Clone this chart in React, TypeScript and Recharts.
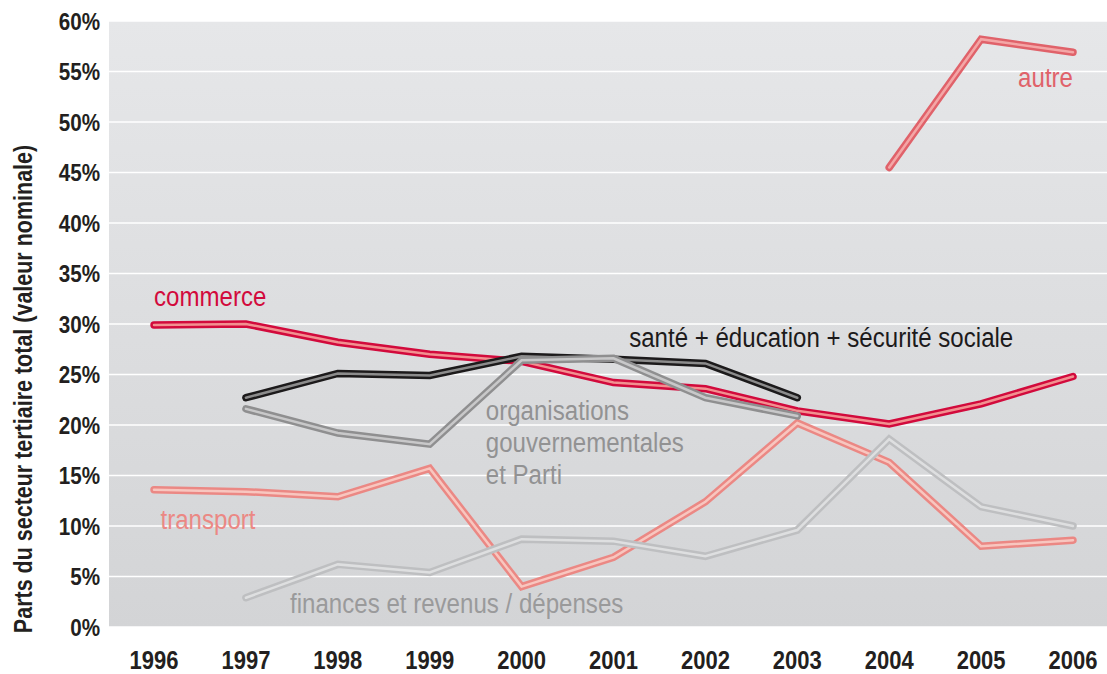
import React from 'react';
import { LineChart, Line, XAxis, YAxis, CartesianGrid, ReferenceDot, Label } from 'recharts';

const years = [1996, 1997, 1998, 1999, 2000, 2001, 2002, 2003, 2004, 2005, 2006];
const commerce = [29.9, 30.0, 28.2, 27.0, 26.3, 24.2, 23.6, 21.4, 20.1, 22.1, 24.8];
const sante = [null, 22.7, 25.1, 24.9, 26.8, 26.5, 26.1, 22.7, null, null, null];
const organisations = [null, 21.6, 19.2, 18.1, 26.4, 26.6, 22.7, 20.9, null, null, null];
const transport = [13.6, 13.4, 12.9, 15.7, 4.0, 6.9, 12.4, 20.2, 16.3, 8.0, 8.6];
const finances = [null, 2.9, 6.2, 5.4, 8.7, 8.5, 7.0, 9.6, 18.6, 11.9, 10.0];
const autre = [null, null, null, null, null, null, null, null, 45.5, 58.2, 56.9];
const yTicks = [0, 5, 10, 15, 20, 25, 30, 35, 40, 45, 50, 55, 60];

const data = years.map((year, i) => ({
    year,
    commerce: commerce[i],
    sante: sante[i],
    organisations: organisations[i],
    transport: transport[i],
    finances: finances[i],
    autre: autre[i],
}));

// drawing order: bottom -> top
const series = [
    { key: 'transport', outer: '#eb8884', inner: '#f8c6bf' },
    { key: 'finances', outer: '#bebfc1', inner: '#dedfe0' },
    { key: 'commerce', outer: '#d20a3c', inner: '#f29090' },
    { key: 'sante', outer: '#1c1a1b', inner: '#8c8c8c' },
    { key: 'organisations', outer: '#8f8f90', inner: '#c8c8c9' },
    { key: 'autre', outer: '#e0626a', inner: '#f4a6a6' },
];

const annotations = [
    { x: 1996, y: 31.75, lines: ['commerce'], color: '#d20a3c', anchor: 'start' },
    { x: 2001.17, y: 27.7, lines: ['santé + éducation + sécurité sociale'], color: '#1c1a1b', anchor: 'start' },
    { x: 1999.61, y: 20.5, lines: ['organisations', 'gouvernementales', 'et Parti'], color: '#929293', anchor: 'start' },
    { x: 1996.07, y: 9.7, lines: ['transport'], color: '#eb8884', anchor: 'start' },
    { x: 1997.48, y: 1.4, lines: ['finances et revenus / dépenses'], color: '#9a9a9b', anchor: 'start' },
    { x: 2006, y: 53.5, lines: ['autre'], color: '#e0626a', anchor: 'end' },
];

// no narrow font installed, so squeeze Liberation Sans horizontally
const FONT = '"Liberation Sans", Arial, sans-serif';
const NARROW = 0.86;

function XTick(props: any) {
    const { x, y, payload } = props;
    return (
        <text transform={`translate(${x},${y}) scale(0.88,1)`} textAnchor="middle" dy="0.71em"
            fill="#231f20" fontSize={25} fontWeight="bold" fontFamily={FONT}>
            {payload.value}
        </text>
    );
}

function YTick(props: any) {
    const { x, y, payload } = props;
    return (
        <text transform={`translate(${x},${y}) scale(${NARROW},1)`} textAnchor="end" dy="0.355em"
            fill="#231f20" fontSize={24} fontWeight="bold" fontFamily={FONT}>
            {`${payload.value}%`}
        </text>
    );
}

export default function App() {
    return (
        <div style={{ position: 'absolute', left: 0, top: 0, width: 1107, height: 674, background: '#fff', fontFamily: FONT }}>
            <LineChart width={1107} height={674} data={data} margin={{ top: 21, right: 0, left: 0, bottom: 0 }}>
                <defs>
                    <linearGradient id="bg" x1="0" y1="0" x2="0" y2="1">
                        <stop offset="0%" stopColor="#e6e7e9" />
                        <stop offset="100%" stopColor="#d3d4d6" />
                    </linearGradient>
                </defs>
                <CartesianGrid vertical={false} stroke="#ffffff" strokeWidth={1.5} fill="url(#bg)" fillOpacity={1} />
                <XAxis
                    dataKey="year"
                    type="number"
                    domain={[1995.51, 2006.37]}
                    allowDataOverflow
                    ticks={years}
                    axisLine={false}
                    tickLine={false}
                    tickSize={0}
                    tickMargin={24}
                    height={47}
                    tick={<XTick />}
                />
                <YAxis
                    domain={[0, 60]}
                    ticks={yTicks}
                    width={109}
                    axisLine={false}
                    tickLine={false}
                    tickSize={0}
                    tickMargin={9}
                    tick={<YTick />}
                >
                    <Label
                        content={() => (
                            <text
                                transform={`translate(32,389) rotate(-90) scale(${NARROW},1)`}
                                textAnchor="middle"
                                fill="#231f20"
                                fontSize={25}
                                fontWeight="bold"
                                fontFamily={FONT}
                            >
                                Parts du secteur tertiaire total (valeur nominale)
                            </text>
                        )}
                    />
                </YAxis>
                {series.flatMap((s) => [
                    <Line
                        key={s.key + '-outer'}
                        dataKey={s.key}
                        stroke={s.outer}
                        strokeWidth={7.5}
                        strokeLinecap="round"
                        dot={false}
                        activeDot={false}
                        type="linear"
                        isAnimationActive={false}
                    />,
                    <Line
                        key={s.key + '-inner'}
                        dataKey={s.key}
                        stroke={s.inner}
                        strokeWidth={2.5}
                        strokeLinecap="round"
                        dot={false}
                        activeDot={false}
                        type="linear"
                        isAnimationActive={false}
                    />,
                ])}
                {annotations.map((a) => (
                    <ReferenceDot
                        key={a.lines[0]}
                        x={a.x}
                        y={a.y}
                        r={0}
                        fill="none"
                        stroke="none"
                        ifOverflow="visible"
                        label={{
                            content: (props: any) => {
                                const vb = props.viewBox || {};
                                const x0 = vb.x ?? 0;
                                const y0 = vb.y ?? 0;
                                return (
                                    <text transform={`translate(${x0},${y0}) scale(${NARROW},1)`} fill={a.color}
                                        fontSize={28} fontFamily={FONT} textAnchor={a.anchor}>
                                        {a.lines.map((ln, i) => (
                                            <tspan key={ln} x={0} y={i * 32}>{ln}</tspan>
                                        ))}
                                    </text>
                                );
                            },
                        }}
                    />
                ))}
            </LineChart>
        </div>
    );
}
